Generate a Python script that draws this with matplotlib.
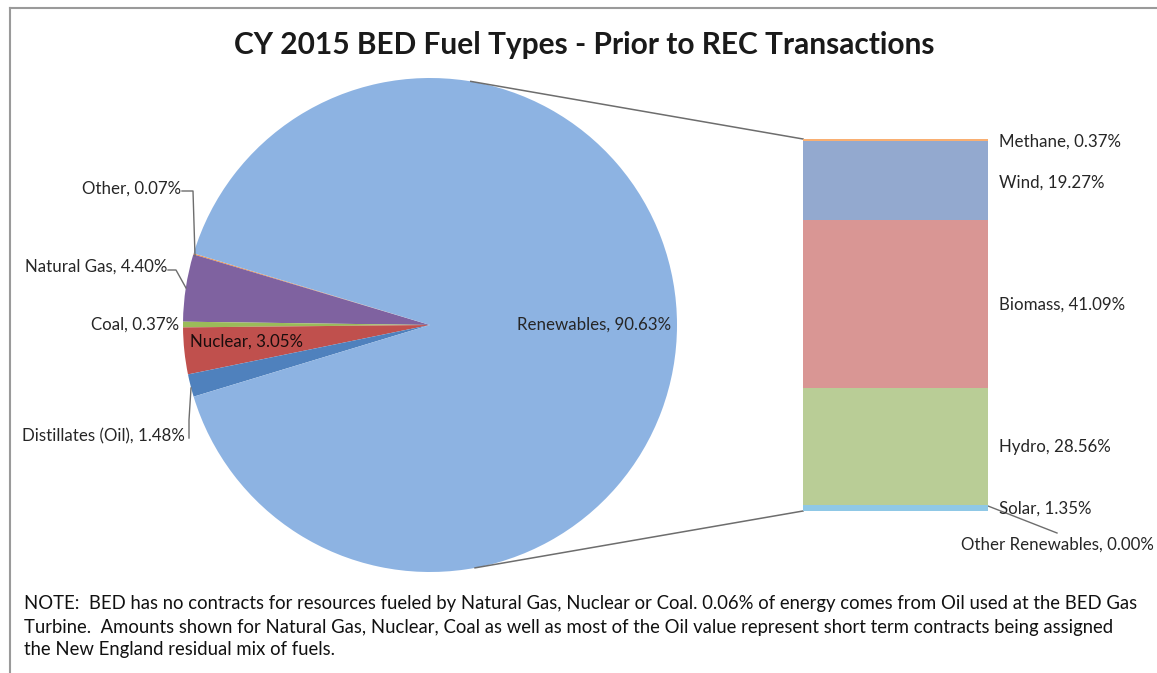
import numpy as np
import matplotlib
matplotlib.use("Agg")
import matplotlib.pyplot as plt
from matplotlib.lines import Line2D

plt.rcParams["font.family"] = ["Lato", "DejaVu Sans"]

# pie data (share of total energy, %)
pie_labels = ["Other", "Natural Gas", "Coal", "Nuclear", "Distillates (Oil)", "Renewables"]
pie_values = [0.07, 4.40, 0.37, 3.05, 1.48, 90.63]
pie_colors = ["#F79646", "#7F62A0", "#9BBB59", "#C0504D", "#4F81BD", "#8DB3E2"]

# bar data: breakdown of renewables, bottom to top (%)
bar_labels = ["Other Renewables", "Solar", "Hydro", "Biomass", "Wind", "Methane"]
bar_values = [0.00, 1.35, 28.56, 41.09, 19.27, 0.37]
bar_colors = ["#8DB3E2", "#8FC8E6", "#B9CD96", "#D99694", "#93A9CF", "#F9AF72"]

W, H = 1157, 673
fig = plt.figure(figsize=(W / 100, H / 100), dpi=100)
fig.patch.set_facecolor("white")

# main axes in pixel coords (y up)
ax = fig.add_axes([0, 0, 1, 1])
cx, cy, r = 430, H - 325, 247

small = sum(pie_values[:-1]) * 3.6
start = 180 - small / 2
wedges, _ = ax.pie(pie_values, colors=pie_colors, startangle=start, counterclock=True,
                   center=(cx, cy), radius=r, wedgeprops=dict(linewidth=0))
ax.set_xlim(0, W)
ax.set_ylim(0, H)
ax.set_aspect("auto")
ax.axis("off")

# bar of renewables
bx0, bx1, by0, by1 = 803, 988, 511, 139
bax = fig.add_axes([bx0 / W, (H - by0) / H, (bx1 - bx0) / W, (by0 - by1) / H])
bottom = 0
for lab, v, c in zip(bar_labels, bar_values, bar_colors):
    bax.bar(0.5, v, width=1, bottom=bottom, color=c, linewidth=0)
    bottom += v
bax.set_xlim(0, 1)
bax.set_ylim(0, sum(bar_values))
bax.axis("off")

# connector lines pie -> bar
for ang, yb in [(80.5, by1), (-79.5, by0)]:
    px = cx + r * np.cos(np.radians(ang))
    py = cy + r * np.sin(np.radians(ang))
    ax.plot([px, bx0], [py, H - yb], color="#6d6d6d", lw=1.1)

fs = 12.2
tc = "#262626"

def lab(x, y, s, ha="left", color=tc):
    ax.text(x, H - y, s, ha=ha, va="center", fontsize=fs, color=color)

# pie labels
vals = dict(zip(pie_labels, pie_values))
lab(181, 189, f"Other, {vals['Other']:.2f}%", ha="right")
ax.plot([182, 193, 195], [H - 191, H - 191, H - 256], color="#6d6d6d", lw=1)
lab(167, 267, f"Natural Gas, {vals['Natural Gas']:.2f}%", ha="right")
ax.plot([168, 176, 186], [H - 270, H - 270, H - 288], color="#6d6d6d", lw=1)
lab(179, 325, f"Coal, {vals['Coal']:.2f}%", ha="right")
lab(190, 342, f"Nuclear, {vals['Nuclear']:.2f}%", color="#1a0d0d")
lab(185, 436, f"Distillates (Oil), {vals['Distillates (Oil)']:.2f}%", ha="right")
ax.plot([189, 189, 191], [H - 438, H - 420, H - 388], color="#6d6d6d", lw=1)
lab(517, 325, f"Renewables, {vals['Renewables']:.2f}%")

# bar labels
bvals = dict(zip(bar_labels, bar_values))
lab(999, 142, f"Methane, {bvals['Methane']:.2f}%")
lab(999, 183, f"Wind, {bvals['Wind']:.2f}%")
lab(999, 305, f"Biomass, {bvals['Biomass']:.2f}%")
lab(999, 447, f"Hydro, {bvals['Hydro']:.2f}%")
lab(999, 509, f"Solar, {bvals['Solar']:.2f}%")
ax.plot([988, 1057], [H - 506, H - 533], color="#6d6d6d", lw=1)
lab(1057, 545, f"Other Renewables, {bvals['Other Renewables']:.2f}%", ha="center")

# title
ax.text(584, H - 45, "CY 2015 BED Fuel Types - Prior to REC Transactions",
        ha="center", va="center", fontsize=21.5, fontweight="bold", color="#1a1a1a")

# note, one text per line
note_lines = [
    "NOTE:  BED has no contracts for resources fueled by Natural Gas, Nuclear or Coal. 0.06% of energy comes from Oil used at the BED Gas",
    "Turbine.  Amounts shown for Natural Gas, Nuclear, Coal as well as most of the Oil value represent short term contracts being assigned",
    "the New England residual mix of fuels.",
]
for i, line in enumerate(note_lines):
    ax.text(24, H - (604 + 23 * i), line, ha="left", va="center", fontsize=13.35, color="#111111")

# chart border
fig.add_artist(Line2D([10 / W, 1], [1 - 8 / H, 1 - 8 / H], color="#9a9a9a", lw=1.5))
fig.add_artist(Line2D([10 / W, 10 / W], [0, 1 - 8 / H], color="#9a9a9a", lw=1.5))

fig.savefig("out.png", dpi=100)
